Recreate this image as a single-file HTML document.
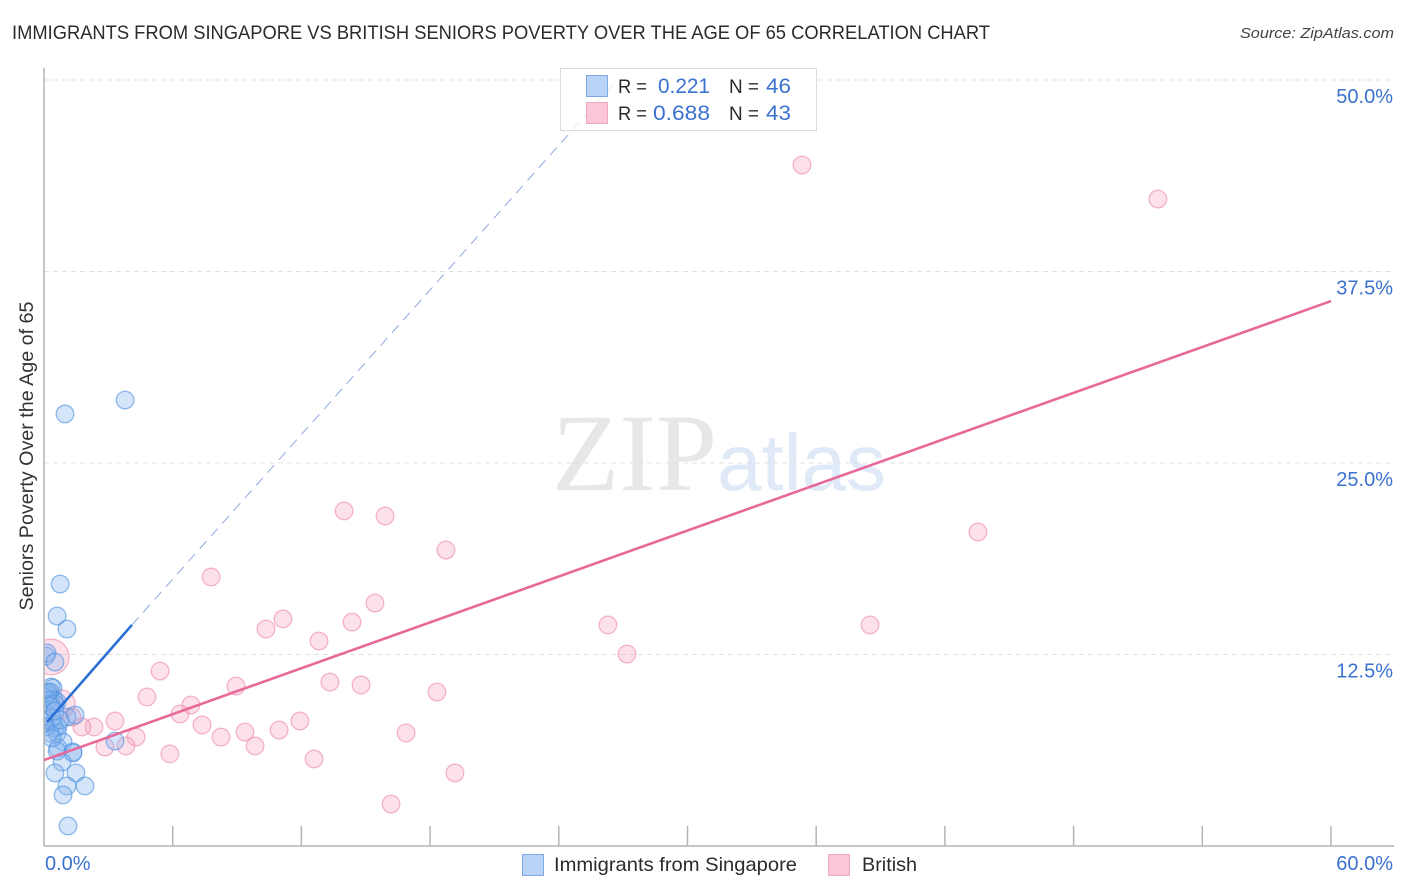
<!DOCTYPE html>
<html lang="en">
<head>
<meta charset="utf-8">
<title>Immigrants from Singapore vs British Seniors Poverty Correlation Chart</title>
<style>
html,body{margin:0;padding:0;background:#fff;width:1406px;height:892px;overflow:hidden}
svg{display:block;font-family:"Liberation Sans",sans-serif}
</style>
</head>
<body>
<svg id="chart" width="1406" height="892" viewBox="0 0 1406 892" xmlns="http://www.w3.org/2000/svg">
  <defs>
    <clipPath id="plot-clip"><rect x="44" y="68" width="1350" height="778"/></clipPath>
  </defs>
  <text x="12" y="39" font-size="19" fill="#2b2b2b" textLength="978" lengthAdjust="spacingAndGlyphs">IMMIGRANTS FROM SINGAPORE VS BRITISH SENIORS POVERTY OVER THE AGE OF 65 CORRELATION CHART</text>
  <text x="1394" y="38" font-size="15" font-style="italic" fill="#444" text-anchor="end" textLength="154" lengthAdjust="spacingAndGlyphs">Source: ZipAtlas.com</text>

  <g>
    <text x="552" y="490" font-family="'Liberation Serif',serif" font-size="110" fill="#e7e7e7">ZIP</text>
    <text x="717" y="490" font-size="80" fill="#dfe9f8">atlas</text>
  </g>

  <g id="grid"></g>
  <g id="pts-british" clip-path="url(#plot-clip)"></g>
  <g id="pts-singapore" clip-path="url(#plot-clip)"></g>
  <g id="axes"></g>
  <g id="trends"></g>
  <g id="tick-labels"></g>

  <text transform="translate(33,456) rotate(-90)" font-size="19" fill="#333" text-anchor="middle" textLength="309" lengthAdjust="spacingAndGlyphs">Seniors Poverty Over the Age of 65</text>

  <g>
    <rect x="560.5" y="68.5" width="256" height="62" fill="#fff" fill-opacity="0.78" stroke="#dcdcdc"/>
    <rect x="586.5" y="75.5" width="21" height="21" fill="#b9d3f6" stroke="#7faae6"/>
    <rect x="586.5" y="102.5" width="21" height="21" fill="#fcc8d9" stroke="#f0a7c0"/>
    <text x="618" y="93" font-size="19" fill="#2b2b2b" textLength="29" lengthAdjust="spacingAndGlyphs">R =</text>
    <text x="710" y="93" font-size="21" fill="#3b72d0" text-anchor="end" textLength="52" lengthAdjust="spacingAndGlyphs">0.221</text>
    <text x="729" y="93" font-size="19" fill="#2b2b2b" textLength="30" lengthAdjust="spacingAndGlyphs">N =</text>
    <text x="766" y="93" font-size="21" fill="#3b72d0" textLength="25" lengthAdjust="spacingAndGlyphs">46</text>
    <text x="618" y="120" font-size="19" fill="#2b2b2b" textLength="29" lengthAdjust="spacingAndGlyphs">R =</text>
    <text x="710" y="120" font-size="21" fill="#3b72d0" text-anchor="end" textLength="57" lengthAdjust="spacingAndGlyphs">0.688</text>
    <text x="729" y="120" font-size="19" fill="#2b2b2b" textLength="30" lengthAdjust="spacingAndGlyphs">N =</text>
    <text x="766" y="120" font-size="21" fill="#3b72d0" textLength="25" lengthAdjust="spacingAndGlyphs">43</text>
  </g>

  <g>
    <g>
      <rect x="522.5" y="854.5" width="21" height="21" fill="#b9d3f6" stroke="#7faae6"/>
      <text x="554" y="871" font-size="19.5" fill="#2b2b2b" textLength="243" lengthAdjust="spacingAndGlyphs">Immigrants from Singapore</text>
    </g>
    <g>
      <rect x="828.5" y="854.5" width="21" height="21" fill="#fcc8d9" stroke="#f0a7c0"/>
      <text x="862" y="871" font-size="19.5" fill="#2b2b2b" textLength="55" lengthAdjust="spacingAndGlyphs">British</text>
    </g>
  </g>
</svg>

<script>
const yTicks = [12.5, 25, 37.5, 50];
const yTickLabels = ["12.5%", "25.0%", "37.5%", "50.0%"];
const xTicks = [6, 12, 18, 24, 30, 36, 42, 48, 54, 60];
const xEndLabels = ["0.0%", "60.0%"];
const xEndValues = [0, 60];

const singaporeX = [3.78,0.98,0.75,0.61,1.07,0.09,0.14,0.51,0.33,0.42,0.28,0.14,0.47,0.61,0.05,0.19,0.33,0.51,1.07,1.45,0.42,0.51,0.65,0.28,0.61,0.89,0.65,0.61,1.35,1.35,3.31,0.84,0.51,1.49,1.07,1.91,0.89,1.12,0.19,0.05,0.37,0.28,0.51,0.09,0.75,0.37];
const singaporeY = [29.11,28.2,17.1,15.01,14.16,12.4,12.6,12.01,10.38,10.31,10.05,9.86,9.53,9.4,9.73,9.53,9.27,9.27,8.42,8.55,8.03,7.7,7.77,7.38,7.38,6.79,6.4,6.2,6.14,6.07,6.85,5.48,4.77,4.77,3.92,3.92,3.33,1.31,10.0,8.22,8.35,9.14,8.81,7.77,8.22,7.05];

const britishX = [35.34,51.93,13.99,15.9,18.74,7.79,43.54,15.43,11.14,10.35,14.36,12.82,26.29,27.18,38.51,5.41,8.95,13.33,14.78,18.32,4.8,6.85,6.34,11.93,3.31,7.37,2.33,1.77,8.25,9.37,10.96,16.88,4.29,2.84,3.82,9.84,5.87,12.59,19.16,16.18,1.31];
const britishY = [44.45,42.23,21.87,21.54,19.32,17.56,20.5,15.86,14.82,14.16,14.62,13.38,14.43,12.53,14.43,11.42,10.44,10.7,10.51,10.05,9.73,9.2,8.62,8.16,8.16,7.9,7.77,7.77,7.11,7.44,7.57,7.38,7.11,6.46,6.53,6.53,6.01,5.68,4.77,2.74,8.42];
const britishLargeX = [0.33, 0.79];
const britishLargeY = [12.34, 9.27];
const britishLargeWeights = [3.2, 2.0];

const singaporeTrendX = [0.14, 4.1];
const singaporeTrendY = [8.09, 14.43];
const singaporeDashX = [4.1, 26.71];
const singaporeDashY = [14.43, 50];
const britishTrendX = [0, 60];
const britishTrendY = [5.61, 35.57];

const xAt = v => 44 + v * 21.45;
const yAt = v => 846 - v * 15.32;
const radiusAt = w => 10 * Math.sqrt(w);
const NS = "http://www.w3.org/2000/svg";
function make(tag, parent, attrs) {
  const el = document.createElementNS(NS, tag);
  for (const k in attrs) el.setAttribute(k, attrs[k]);
  parent.appendChild(el);
  return el;
}
const grid = document.getElementById("grid");
const axes = document.getElementById("axes");
const labels = document.getElementById("tick-labels");
const trends = document.getElementById("trends");
const ptsS = document.getElementById("pts-singapore");
const ptsB = document.getElementById("pts-british");

yTicks.forEach((t, i) => {
  const l = make("line", grid, {x1: 44, x2: 1394, y1: yAt(t), y2: yAt(t), stroke: "#e0e0e0", "stroke-width": 1, "stroke-dasharray": "5 4"});
  
  
  const s = make("text", labels, {x: 1393, y: yAt(t) + 23, "font-size": 20, fill: "#3b72d0", "text-anchor": "end"});
  s.textContent = yTickLabels[i];
  
  
});

const axisY = make("line", axes, {x1: 44, x2: 44, y1: 68, y2: 846, stroke: "#b4b4b4", "stroke-width": 1.5});


const axisX = make("line", axes, {x1: 44, x2: 1394, y1: 846, y2: 846, stroke: "#b4b4b4", "stroke-width": 1.5});


xTicks.forEach(t => {
  const l = make("line", axes, {x1: xAt(t), x2: xAt(t), y1: 826, y2: 846, stroke: "#b4b4b4", "stroke-width": 1.5});
  
  
});
xEndValues.forEach((t, i) => {
  const s = make("text", labels, {x: i === 0 ? xAt(t) + 1 : 1393, y: 870, "font-size": 20, fill: "#3b72d0", "text-anchor": i === 0 ? "start" : "end"});
  s.textContent = xEndLabels[i];
  
  
});

britishLargeX.forEach((x, i) => {
  const c = make("circle", ptsB, {cx: xAt(x), cy: yAt(britishLargeY[i]), r: radiusAt(britishLargeWeights[i]), fill: "#f7a8c2", "fill-opacity": 0.35, stroke: "#ee86a9", "stroke-opacity": 0.6, "stroke-width": 1.3});
  
  
});
britishX.forEach((x, i) => {
  const c = make("circle", ptsB, {cx: xAt(x), cy: yAt(britishY[i]), r: 8.8, fill: "#f7a8c2", "fill-opacity": 0.35, stroke: "#ee86a9", "stroke-opacity": 0.6, "stroke-width": 1.3});
  
  
});
singaporeX.forEach((x, i) => {
  const c = make("circle", ptsS, {cx: xAt(x), cy: yAt(singaporeY[i]), r: 8.8, fill: "#86b4ef", "fill-opacity": 0.35, stroke: "#4a8de0", "stroke-opacity": 0.6, "stroke-width": 1.3});
  
  
});

const dash = make("line", trends, {x1: xAt(singaporeDashX[0]), y1: yAt(singaporeDashY[0]), x2: xAt(singaporeDashX[1]), y2: yAt(singaporeDashY[1]), stroke: "#8fa9e0", "stroke-width": 1, "stroke-dasharray": "10 7"});


const solid = make("line", trends, {x1: xAt(singaporeTrendX[0]), y1: yAt(singaporeTrendY[0]), x2: xAt(singaporeTrendX[1]), y2: yAt(singaporeTrendY[1]), stroke: "#2a6fd6", "stroke-width": 2.6});


const pink = make("line", trends, {x1: xAt(britishTrendX[0]), y1: yAt(britishTrendY[0]), x2: xAt(britishTrendX[1]), y2: yAt(britishTrendY[1]), stroke: "#e8689a", "stroke-width": 2.6});


</script>
</body>
</html>
